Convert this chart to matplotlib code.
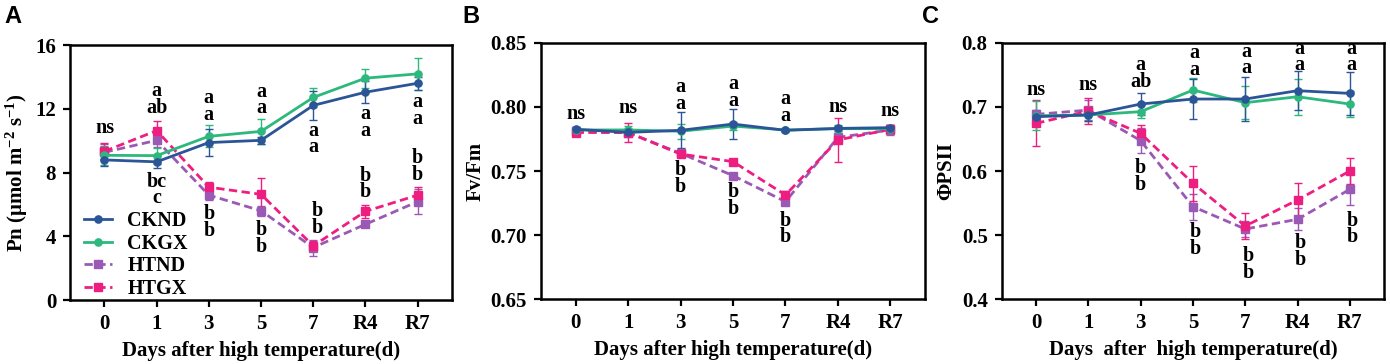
import matplotlib
matplotlib.use("Agg")
import matplotlib.pyplot as plt
import numpy as np
from matplotlib.lines import Line2D

plt.rcParams['font.family'] = ['Liberation Serif', 'DejaVu Serif']
plt.rcParams['font.weight'] = 'bold'
plt.rcParams['mathtext.fontset'] = 'custom'
plt.rcParams['mathtext.rm'] = 'Liberation Serif:bold'
plt.rcParams['mathtext.it'] = 'Liberation Serif:bold'
plt.rcParams['mathtext.bf'] = 'Liberation Serif:bold'

days = ['0', '1', '3', '5', '7', 'R4', 'R7']
series_names = ['CKND', 'CKGX', 'HTND', 'HTGX']

# Panel A: Pn
pn_ckn = [8.79, 8.67, 9.88, 10.02, 12.21, 13.04, 13.60]
pn_ckg = [9.08, 9.06, 10.27, 10.58, 12.71, 13.92, 14.19]
pn_htn = [9.27, 10.02, 6.58, 5.60, 3.29, 4.75, 6.17]
pn_htg = [9.33, 10.63, 7.08, 6.63, 3.40, 5.56, 6.58]
pn_ckn_err = [0.40, 0.40, 0.85, 0.20, 0.90, 0.70, 0.40]
pn_ckg_err = [0.60, 0.50, 0.70, 0.80, 0.60, 0.60, 1.00]
pn_htn_err = [0.50, 0.40, 0.30, 0.30, 0.50, 0.20, 0.80]
pn_htg_err = [0.50, 0.60, 0.30, 1.00, 0.30, 0.40, 0.50]

# Panel B: Fv/Fm
fv_ckn = [0.7825, 0.7801, 0.7817, 0.7866, 0.7817, 0.7832, 0.7838]
fv_ckg = [0.7820, 0.7820, 0.7810, 0.7850, 0.7820, 0.7830, 0.7830]
fv_htn = [0.7810, 0.7800, 0.7638, 0.7464, 0.7261, 0.7762, 0.7820]
fv_htg = [0.7800, 0.7800, 0.7632, 0.7573, 0.7313, 0.7742, 0.7825]
fv_ckn_err = [0.002, 0.003, 0.014, 0.012, 0.001, 0.002, 0.002]
fv_ckg_err = [0.002, 0.003, 0.006, 0.003, 0.001, 0.003, 0.002]
fv_htn_err = [0.002, 0.002, 0.002, 0.002, 0.002, 0.003, 0.004]
fv_htg_err = [0.002, 0.0075, 0.002, 0.002, 0.003, 0.017, 0.003]

# Panel C: PhiPSII
ph_ckn = [0.6847, 0.6873, 0.7044, 0.7122, 0.7122, 0.7252, 0.7210]
ph_ckg = [0.6862, 0.6873, 0.6925, 0.7262, 0.7065, 0.7158, 0.7044]
ph_htn = [0.6883, 0.6950, 0.6473, 0.5444, 0.5096, 0.5247, 0.5714]
ph_htg = [0.6743, 0.6935, 0.6587, 0.5808, 0.5143, 0.5548, 0.6000]
ph_ckn_err = [0.010, 0.010, 0.017, 0.031, 0.035, 0.030, 0.034]
ph_ckg_err = [0.023, 0.010, 0.010, 0.018, 0.026, 0.028, 0.020]
ph_htn_err = [0.005, 0.015, 0.020, 0.020, 0.012, 0.017, 0.025]
ph_htg_err = [0.036, 0.020, 0.013, 0.027, 0.020, 0.027, 0.021]

# significance letter groups: (x position, y of group centre, text)
ann_a = [(0, 10.8, 'ns'), (1, 12.6, 'a\nab'), (1, 6.9, 'bc\nc'),
         (2, 12.13, 'a\na'), (2, 4.85, 'b\nb'),
         (3, 12.55, 'a\na'), (3, 3.88, 'b\nb'),
         (4, 10.1, 'a\na'), (4.07, 5.06, 'b\nb'),
         (5, 11.13, 'a\na'), (5, 7.28, 'b\nb'),
         (6, 11.9, 'a\na'), (6, 8.38, 'b\nb')]
ann_b = [(0, 0.7944, 'ns'), (1, 0.7994, 'ns'),
         (2, 0.8086, 'a\na'), (2, 0.7443, 'b\nb'),
         (3, 0.8110, 'a\na'), (3, 0.7268, 'b\nb'),
         (4, 0.7995, 'a\na'), (4, 0.7049, 'b\nb'),
         (5, 0.8001, 'ns'), (6, 0.7968, 'ns')]
ann_c = [(0, 0.7262, 'ns'), (1, 0.7340, 'ns'),
         (2, 0.7517, 'a\nab'), (2, 0.5912, 'b\nb'),
         (3.03, 0.7712, 'a\na'), (3.04, 0.4917, 'b\nb'),
         (4.02, 0.7730, 'a\na'), (4.05, 0.4546, 'b\nb'),
         (5.03, 0.7777, 'a\na'), (5.05, 0.4748, 'b\nb'),
         (6.03, 0.7777, 'a\na'), (6.05, 0.5094, 'b\nb')]

colors = {'CKND': '#2b5597', 'CKGX': '#2db87d', 'HTND': '#9b59b6', 'HTGX': '#ee1e80'}
DASH = (0, (3.0, 1.6))

fig = plt.figure(figsize=(13.9, 3.64), dpi=100)
axA = fig.add_axes([0.0504, 0.1758, 0.2748, 0.7005])
axB = fig.add_axes([0.3892, 0.1777, 0.2763, 0.7050])
axC = fig.add_axes([0.7206, 0.1777, 0.2753, 0.7050])

x = np.arange(len(days))

def style(name):
    dashed = name.startswith('HT')
    return dict(color=colors[name], lw=2.0, ls=DASH if dashed else '-',
                marker='s' if dashed else 'o', ms=5.6 if dashed else 5.2)

def draw(ax, data, errs, ylim, yticks, yfmt, ylabel, anns, xlabel):
    for name in ['HTND', 'HTGX', 'CKGX', 'CKND']:
        ax.errorbar(x, data[name], yerr=errs[name], capsize=2.8, capthick=1.0,
                    elinewidth=1.0, zorder=3, **style(name))
    ax.set_xlim(-0.66, 6.66)
    ax.set_ylim(*ylim)
    ax.set_yticks(yticks)
    ax.set_yticklabels([yfmt.format(v) for v in yticks])
    ax.set_xticks(x)
    ax.set_xticklabels(days)
    for s in ax.spines.values():
        s.set_linewidth(1.8)
    ax.tick_params(width=1.6, length=5, labelsize=15, pad=5)
    ax.set_ylabel(ylabel, fontsize=15, fontweight='bold', labelpad=4)
    ax.set_xlabel(xlabel, fontsize=15, fontweight='bold', labelpad=5)
    for xi, yi, t in anns:
        ax.text(xi, yi, t, ha='center', va='center', fontsize=14.5, fontweight='bold',
                linespacing=0.78, zorder=5)

draw(axA, {'CKND': pn_ckn, 'CKGX': pn_ckg, 'HTND': pn_htn, 'HTGX': pn_htg},
     {'CKND': pn_ckn_err, 'CKGX': pn_ckg_err, 'HTND': pn_htn_err, 'HTGX': pn_htg_err},
     (0, 16), [0, 4, 8, 12, 16], '{:g}',
     r'Pn ($\mathregular{\mu}$mol m$^{\mathregular{-2}}$ s$^{\mathregular{-1}}$)', ann_a,
     'Days after high temperature(d)')
draw(axB, {'CKND': fv_ckn, 'CKGX': fv_ckg, 'HTND': fv_htn, 'HTGX': fv_htg},
     {'CKND': fv_ckn_err, 'CKGX': fv_ckg_err, 'HTND': fv_htn_err, 'HTGX': fv_htg_err},
     (0.65, 0.85), [0.65, 0.70, 0.75, 0.80, 0.85], '{:.2f}', 'Fv/Fm', ann_b,
     'Days after high temperature(d)')
draw(axC, {'CKND': ph_ckn, 'CKGX': ph_ckg, 'HTND': ph_htn, 'HTGX': ph_htg},
     {'CKND': ph_ckn_err, 'CKGX': ph_ckg_err, 'HTND': ph_htn_err, 'HTGX': ph_htg_err},
     (0.4, 0.8), [0.4, 0.5, 0.6, 0.7, 0.8], '{:.1f}', 'ΦPSII', ann_c,
     'Days  after  high temperature(d)')

leg_handles = [Line2D([], [], **style(n)) for n in series_names]
axA.legend(leg_handles, series_names, loc='lower left', bbox_to_anchor=(0.0, -0.05),
           frameon=False, fontsize=14.5, handlelength=1.4, handletextpad=0.75,
           labelspacing=0.12, borderaxespad=0.3)

for lbl, xp in [('A', 0.003), ('B', 0.333), ('C', 0.663)]:
    fig.text(xp, 0.985, lbl, ha='left', va='top', fontsize=17, fontweight='bold',
             family=['Liberation Sans', 'DejaVu Sans'])

fig.savefig('out.png', dpi=100)
